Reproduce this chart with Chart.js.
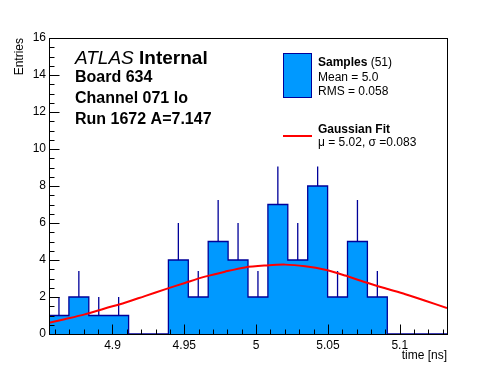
<!DOCTYPE html>
<html>
<head>
<meta charset="utf-8">
<script src="https://cdn.jsdelivr.net/npm/chart.js@4.4.1/dist/chart.umd.min.js"></script>
<style>
  body{margin:0;background:#fff;}
  #my_canvas{display:block;}
</style>
</head>
<body>
<canvas id="my_canvas" width="496" height="372"></canvas>
<script>
// histogram contents, 20 bins spanning the full x range
const binCounts = [1, 2, 1, 1, 0, 0, 4, 2, 5, 4, 2, 7, 4, 8, 2, 5, 2, 0, 0, 0];
// visible top of each error bar (null = no bar)
const errTops = [2, 3.41, 2, 2, null, null, 6, 3.41, 7.24, 6, 3.41, 9.05, 6, 9.05, 3.41, 7.24, 3.41, null, null, null];

// gaussian fit curve
const fitX = [4.8558, 4.8667, 4.8807, 4.8946, 4.9086, 4.9225, 4.9365, 4.9504, 4.9644, 4.9783, 4.9923,
              5.0062, 5.0202, 5.0341, 5.0481, 5.0620, 5.0760, 5.0899, 5.1039, 5.1178, 5.1329];
const fitY = [0.61, 0.80, 1.06, 1.38, 1.69, 2.05, 2.41, 2.76, 3.10, 3.37, 3.60,
              3.70, 3.75, 3.66, 3.47, 3.16, 2.80, 2.47, 2.15, 1.80, 1.40];

const xTickVals = [4.9, 4.95, 5, 5.05, 5.1];
const xTickLabels = ['4.9', '4.95', '5', '5.05', '5.1'];
const yTickVals = [0, 2, 4, 6, 8, 10, 12, 14, 16];
const yTickLabels = ['0', '2', '4', '6', '8', '10', '12', '14', '16'];

const X_MIN = 4.8558;
const X_MAX = 5.1329;
const Y_MAX = 16;

const FONT = "'Liberation Sans', Arial, Helvetica, sans-serif";
const FILL_BLUE = '#0099ff';
const LINE_BLUE = '#000099';

const binWidth = (X_MAX - X_MIN) / binCounts.length;

// outline of the histogram as a stepped line
const histPoints = [{x: X_MIN, y: 0}];
binCounts.forEach((c, i) => {
    histPoints.push({x: X_MIN + i * binWidth, y: c});
});
histPoints.push({x: X_MAX, y: binCounts[binCounts.length - 1]});
histPoints.push({x: X_MAX, y: 0});

// error bars as separate segments
const errPoints = [];
binCounts.forEach((c, i) => {
    if(errTops[i] === null) return;
    const mid = X_MIN + (i + 0.5) * binWidth;
    errPoints.push({x: mid, y: c});
    errPoints.push({x: mid, y: errTops[i]});
    errPoints.push({x: mid, y: null});
});

const fitPoints = fitX.map((x, i) => ({x: x, y: fitY[i]}));

const framePlugin = {
    id: 'frame',
    beforeDraw(chart){
        const ctx = chart.ctx;
        ctx.save();
        ctx.fillStyle = '#fff';
        ctx.fillRect(0, 0, chart.width, chart.height);
        ctx.restore();
    },
    afterDraw(chart){
        const ctx = chart.ctx;
        const a = chart.chartArea;
        const xs = chart.scales.x;
        const ys = chart.scales.y;
        ctx.save();

        // frame
        ctx.strokeStyle = '#000';
        ctx.lineWidth = 1;
        ctx.strokeRect(Math.round(a.left) + 0.5, Math.round(a.top) + 0.5,
                       Math.round(a.right - a.left), Math.round(a.bottom - a.top));

        // ticks drawn inside the frame
        ctx.beginPath();
        const L = Math.round(a.left) + 0.5;
        const B = Math.round(a.bottom) + 0.5;
        for(let v = 0; v <= Y_MAX + 1e-9; v += 0.5){
            const py = Math.round(ys.getPixelForValue(v)) + 0.5;
            const len = (Math.abs(v % 2) < 1e-9) ? 10 : 5;
            ctx.moveTo(L, py);
            ctx.lineTo(L + len, py);
        }
        for(let k = Math.ceil(X_MIN * 100); k <= Math.floor(X_MAX * 100); k++){
            const px = Math.round(xs.getPixelForValue(k / 100)) + 0.5;
            const len = (k % 5 === 0) ? 10 : 5;
            ctx.moveTo(px, B);
            ctx.lineTo(px, B - len);
        }
        ctx.stroke();

        ctx.fillStyle = '#000';

        // axis titles
        ctx.font = '12px ' + FONT;
        ctx.textAlign = 'right';
        ctx.textBaseline = 'alphabetic';
        ctx.fillText('time [ns]', a.right, 359);
        ctx.save();
        ctx.translate(23, a.top);
        ctx.rotate(-Math.PI / 2);
        ctx.fillText('Entries', 0, 0);
        ctx.restore();

        // label block
        ctx.textAlign = 'left';
        ctx.font = 'italic 19px ' + FONT;
        ctx.fillText('ATLAS', 75, 64);
        const w = ctx.measureText('ATLAS ').width;
        ctx.font = 'bold 19px ' + FONT;
        ctx.fillText('Internal', 75 + w, 64);
        ctx.font = 'bold 16px ' + FONT;
        ctx.fillText('Board 634', 75, 82);
        ctx.fillText('Channel 071 lo', 75, 103);
        ctx.fillText('Run 1672 A=7.147', 75, 124);

        // legend
        ctx.fillStyle = FILL_BLUE;
        ctx.fillRect(283, 53, 28, 44);
        ctx.strokeStyle = LINE_BLUE;
        ctx.strokeRect(283.5, 53.5, 28, 44);
        ctx.strokeStyle = '#ff0000';
        ctx.lineWidth = 2;
        ctx.beginPath();
        ctx.moveTo(283, 136);
        ctx.lineTo(312, 136);
        ctx.stroke();

        ctx.fillStyle = '#000';
        ctx.font = 'bold 12px ' + FONT;
        ctx.fillText('Samples', 318, 66);
        const ws = ctx.measureText('Samples ').width;
        ctx.font = '12px ' + FONT;
        ctx.fillText('(51)', 318 + ws, 66);
        ctx.fillText('Mean = 5.0', 318, 81);
        ctx.fillText('RMS = 0.058', 318, 95);
        ctx.font = 'bold 12px ' + FONT;
        ctx.fillText('Gaussian Fit', 318, 133);
        ctx.font = '12px ' + FONT;
        ctx.fillText('\u03bc = 5.02, \u03c3 =0.083', 318, 146);

        ctx.restore();
    }
};

const canvas_element = document.getElementById('my_canvas').getContext('2d');

const the_chart = new Chart(canvas_element, {
    type: 'line',
    data: {
        datasets: [
            {
                label: 'Gaussian Fit',
                data: fitPoints,
                borderColor: '#ff0000',
                borderWidth: 2,
                pointRadius: 0,
                fill: false,
                tension: 0.3,
                order: 0
            },
            {
                label: 'errors',
                data: errPoints,
                borderColor: LINE_BLUE,
                borderWidth: 1.3,
                pointRadius: 0,
                fill: false,
                spanGaps: false,
                order: 1
            },
            {
                label: 'Samples',
                data: histPoints,
                stepped: 'before',
                borderColor: LINE_BLUE,
                borderWidth: 1.3,
                backgroundColor: FILL_BLUE,
                pointRadius: 0,
                fill: 'origin',
                order: 2
            }
        ]
    },
    options: {
        responsive: false,
        animation: false,
        events: [],
        layout: {
            padding: {left: 0, right: 49, top: 38, bottom: 0}
        },
        plugins: {
            legend: {display: false},
            tooltip: {enabled: false}
        },
        scales: {
            x: {
                type: 'linear',
                min: X_MIN,
                max: X_MAX,
                grid: {display: false, drawTicks: false},
                border: {display: false},
                afterBuildTicks: axis => {
                    axis.ticks = xTickVals.map(v => ({value: v}));
                },
                afterFit: axis => {
                    axis.height = 38;
                },
                ticks: {
                    autoSkip: false,
                    maxRotation: 0,
                    padding: 4,
                    color: '#000',
                    font: {family: FONT, size: 12},
                    callback: (val) => {
                        const i = xTickVals.findIndex(v => Math.abs(v - val) < 1e-6);
                        return i >= 0 ? xTickLabels[i] : '';
                    }
                }
            },
            y: {
                type: 'linear',
                min: 0,
                max: Y_MAX,
                grid: {display: false, drawTicks: false},
                border: {display: false},
                afterBuildTicks: axis => {
                    axis.ticks = yTickVals.map(v => ({value: v}));
                },
                afterFit: axis => {
                    axis.width = 49;
                },
                ticks: {
                    autoSkip: false,
                    padding: 3,
                    color: '#000',
                    font: {family: FONT, size: 12},
                    callback: (val) => {
                        const i = yTickVals.indexOf(val);
                        return i >= 0 ? yTickLabels[i] : '';
                    }
                }
            }
        }
    },
    plugins: [framePlugin]
});
</script>
</body>
</html>
